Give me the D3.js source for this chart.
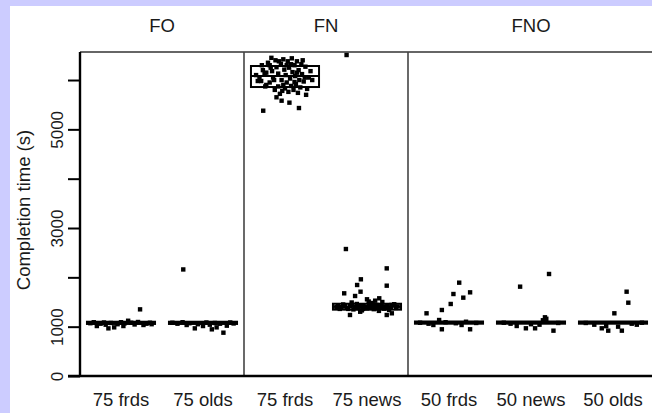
<!DOCTYPE html>
<html>
<head>
<meta charset="utf-8">
<script src="https://cdn.jsdelivr.net/npm/d3@7"></script>
<style>
  body { margin: 0; background: #ccccff; }
  svg { display: block; }
  text { font-family: "Liberation Sans", Arial, sans-serif; fill: #1a1a1a; }
</style>
</head>
<body>
<svg id="chart" width="652" height="413"></svg>
<script>
// categories along the x axis, and the panel each one belongs to
const categories = ["75 frds", "75 olds", "75 frds", "75 news", "50 frds", "50 news", "50 olds"];
const panelNames = ["FO", "FN", "FNO"];
const panelSizes = [2, 2, 3];

// box statistics per category (seconds)
const boxQ1 = [1055, 1055, 5858, 1345, 1060, 1060, 1060];
const boxMedian = [1080, 1080, 6081, 1405, 1085, 1085, 1085];
const boxQ3 = [1100, 1100, 6284, 1465, 1105, 1105, 1105];

// jittered runs: [offset within box (-1..1), completion time]
const runs75FrdsFO = [
  [-0.71, 1013], [-0.37, 966], [-0.2, 986], [0.07, 1013], [0.21, 1120], [0.56, 1351], [0.66, 1034],
  [-0.9, 1070], [-0.8, 1090], [-0.6, 1060], [-0.5, 1085], [-0.45, 1040], [-0.3, 1075], [-0.1, 1050],
  [0, 1090], [0.1, 1065], [0.3, 1080], [0.4, 1045], [0.5, 1095], [0.75, 1060], [0.85, 1080], [0.9, 1050]
];
const runs75OldsFO = [
  [-0.58, 2160], [-0.24, 966], [0.26, 946], [0.6, 878], [-0.48, 1034], [0, 1013], [0.4, 986],
  [-0.9, 1080], [-0.75, 1060], [-0.6, 1090], [-0.4, 1070], [-0.15, 1050], [0.1, 1085], [0.2, 1040],
  [0.35, 1075], [0.5, 1060], [0.7, 1020], [0.8, 1085], [0.9, 1065]
];
const runs75FrdsFN = [
  [-0.75, 6050], [-0.7, 5980], [-0.65, 6200], [-0.6, 6120], [-0.55, 5900], [-0.5, 6350], [-0.45, 6300],
  [-0.45, 5950], [-0.4, 6450], [-0.38, 6180], [-0.35, 6050], [-0.3, 5800], [-0.28, 6400], [-0.25, 6260],
  [-0.2, 5870], [-0.2, 6130], [-0.15, 5720], [-0.12, 6330], [-0.1, 6000], [-0.08, 5780], [-0.05, 6420],
  [-0.02, 6210], [0, 5830], [0.02, 6100], [0.05, 5950], [0.08, 6380], [0.1, 5760], [0.12, 6250],
  [0.15, 6030], [0.18, 5880], [0.2, 6440], [0.22, 6160], [0.25, 5800], [0.28, 6300], [0.3, 6080],
  [0.32, 5920], [0.35, 6380], [0.38, 5740], [0.4, 6200], [0.42, 6000], [0.45, 5850], [0.48, 6320],
  [0.5, 6120], [0.55, 5970], [0.6, 6270], [0.65, 5820], [0.7, 6050], [0.75, 6180], [-0.68, 6300],
  [-0.58, 5870], [-0.32, 6000], [-0.18, 6380], [0.05, 6300], [0.28, 5960], [0.52, 6400], [0.62, 5700],
  [-0.85, 6100], [0.8, 6000], [-0.64, 5378], [-0.1, 5581], [0.13, 5541], [0.41, 5432], [-0.55, 6150],
  [0.35, 6150], [-0.25, 5650], [-0.42, 6250], [0.18, 6320], [-0.05, 5900], [0.58, 6050], [-0.8, 5980]
];
const runs75NewsFN = [
  [-0.6, 6507], [-0.62, 2574], [0.58, 2182], [-0.18, 1960], [-0.29, 1845], [0.58, 1831], [-0.67, 1676],
  [-0.35, 1622], [-0.19, 1709], [0, 1555], [0.36, 1575], [0.24, 1527], [-0.5, 1237], [-0.2, 1303],
  [0.58, 1237], [0.73, 1271], [-0.9, 1400], [-0.8, 1360], [-0.7, 1450], [-0.6, 1380], [-0.5, 1420],
  [-0.4, 1350], [-0.3, 1460], [-0.25, 1390], [-0.1, 1430], [0, 1370], [0.1, 1410], [0.15, 1480],
  [0.2, 1355], [0.3, 1440], [0.4, 1395], [0.45, 1500], [0.5, 1365], [0.6, 1425], [0.7, 1385],
  [0.8, 1455], [0.9, 1410], [-0.45, 1490], [0.05, 1510], [0.35, 1320], [-0.15, 1330], [0.65, 1340],
  [-0.85, 1430], [-0.75, 1395], [-0.65, 1415], [-0.55, 1360], [-0.45, 1440], [-0.35, 1400],
  [-0.2, 1420], [-0.05, 1395], [0.05, 1440], [0.12, 1380], [0.25, 1405], [0.32, 1370], [0.42, 1430],
  [0.52, 1410], [0.62, 1380], [0.72, 1440], [0.85, 1380], [-0.3, 1375], [0.18, 1450], [-0.12, 1360]
];
const runs50FrdsFNO = [
  [-0.66, 1271], [-0.21, 1338], [0.05, 1460], [0.13, 1662], [0.3, 1892], [0.42, 1588], [0.62, 1696],
  [-0.29, 1135], [-0.21, 947], [0.62, 947], [-0.46, 1034], [0.37, 1034], [-0.85, 1080], [-0.6, 1060],
  [-0.1, 1090], [0.2, 1070], [0.5, 1100], [0.8, 1075]
];
const runs50NewsFNO = [
  [-0.32, 1811], [0.53, 2068], [0.41, 1190], [0.66, 919], [-0.15, 967], [0.12, 967], [-0.42, 1014],
  [-0.8, 1080], [-0.6, 1060], [0.25, 1040], [0.35, 1130], [0.45, 1160], [0.8, 1075], [0, 1050]
];
const runs50OldsFNO = [
  [0.4, 1709], [0.45, 1486], [0.04, 1271], [-0.14, 919], [0.26, 919], [-0.33, 967], [-0.8, 1075],
  [-0.55, 1040], [-0.2, 1010], [0.15, 1000], [0.55, 1060], [0.7, 1040], [0.85, 1080]
];
const runs = [runs75FrdsFO, runs75OldsFO, runs75FrdsFN, runs75NewsFN, runs50FrdsFNO, runs50NewsFNO, runs50OldsFNO];

// y axis ticks
const yTicks = [0, 1000, 2000, 3000, 4000, 5000, 6000];
const yTickLabels = [0, 1000, 3000, 5000];

const W = 652, H = 413;
const plot = { left: 80, right: 654, top: 52, bottom: 376 };
const fontFamily = '"Liberation Sans", Arial, sans-serif';

const svg = d3.select("#chart");

// white page over the lavender frame
svg.append("rect")
  .attr("x", 10).attr("y", 6)
  .attr("width", W - 10).attr("height", H - 6)
  .attr("fill", "#ffffff");

const x = d3.scaleBand()
  .domain(d3.range(categories.length))
  .range([plot.left, plot.right]);

const y = d3.scaleLinear()
  .domain([0, 6568])
  .range([plot.bottom, plot.top]);

const boxW = x.bandwidth() * 0.83;
const center = i => x(i) + x.bandwidth() / 2;

// panel boundaries and headers
let start = 0;
const panels = panelNames.map((name, k) => {
  const p = { name: name, from: start, to: start + panelSizes[k] - 1 };
  start += panelSizes[k];
  return p;
});

// top frame line
svg.append("line")
  .attr("x1", plot.left).attr("x2", W)
  .attr("y1", plot.top).attr("y2", plot.top)
  .attr("stroke", "#333").attr("stroke-width", 1.6);

panels.slice(1).forEach(p => {
  svg.append("line")
    .attr("x1", x(p.from)).attr("x2", x(p.from))
    .attr("y1", plot.top).attr("y2", plot.bottom)
    .attr("stroke", "#444").attr("stroke-width", 1.6);
});

svg.selectAll("text.panel")
  .data(panels)
  .join("text")
  .attr("class", "panel")
  .attr("x", p => (x(p.from) + x(p.to) + x.bandwidth()) / 2)
  .attr("y", 32)
  .attr("text-anchor", "middle")
  .style("font-size", "18.5px")
  .text(p => p.name);

// points
const pts = svg.append("g");
runs.forEach((list, i) => {
  pts.selectAll(null)
    .data(list)
    .join("rect")
    .attr("x", d => center(i) + d[0] * boxW / 2 - 2.2)
    .attr("y", d => y(d[1]) - 2.2)
    .attr("width", 4.4)
    .attr("height", 4.4)
    .attr("fill", "#000");
});

// boxes
const boxes = svg.append("g");
categories.forEach((c, i) => {
  boxes.append("rect")
    .attr("x", center(i) - boxW / 2)
    .attr("y", y(boxQ3[i]))
    .attr("width", boxW)
    .attr("height", y(boxQ1[i]) - y(boxQ3[i]))
    .attr("fill", "none")
    .attr("stroke", "#000")
    .attr("stroke-width", 2);
  boxes.append("line")
    .attr("x1", center(i) - boxW / 2).attr("x2", center(i) + boxW / 2)
    .attr("y1", y(boxMedian[i])).attr("y2", y(boxMedian[i]))
    .attr("stroke", "#000").attr("stroke-width", 2);
});

// y axis
const yAxis = d3.axisLeft(y)
  .tickValues(yTicks)
  .tickSize(12)
  .tickFormat(d => yTickLabels.includes(d) ? d : "");
const yG = svg.append("g")
  .attr("transform", "translate(" + plot.left + ",0)")
  .call(yAxis);
yG.select(".domain").remove();
yG.selectAll(".tick line").attr("stroke", "#000").attr("stroke-width", 2);
yG.selectAll(".tick text")
  .attr("x", 0).attr("dy", 0)
  .attr("transform", "translate(-17,0) rotate(-90)")
  .attr("text-anchor", "middle")
  .style("font-size", "17px")
  .style("font-family", fontFamily)
  .attr("fill", "#1a1a1a");

// x axis: category names only, no ticks
svg.selectAll("text.cat")
  .data(categories)
  .join("text")
  .attr("class", "cat")
  .attr("x", (d, i) => center(i))
  .attr("y", 406)
  .attr("text-anchor", "middle")
  .style("font-size", "18.5px")
  .text(d => d);

// thick left and bottom axis lines
svg.append("line")
  .attr("x1", plot.left).attr("x2", plot.left)
  .attr("y1", plot.top).attr("y2", plot.bottom + 1)
  .attr("stroke", "#000").attr("stroke-width", 2.4);
svg.append("line")
  .attr("x1", plot.left - 12).attr("x2", W)
  .attr("y1", plot.bottom).attr("y2", plot.bottom)
  .attr("stroke", "#000").attr("stroke-width", 2.4);

svg.append("text")
  .attr("transform", "translate(30," + ((plot.top + plot.bottom) / 2 - 4) + ") rotate(-90)")
  .attr("text-anchor", "middle")
  .style("font-size", "18.5px")
  .text("Completion time (s)");
</script>
</body>
</html>
